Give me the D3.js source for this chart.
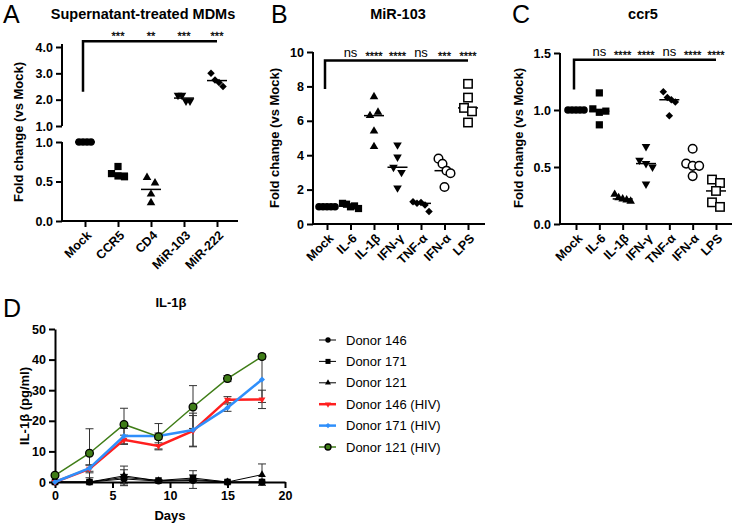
<!DOCTYPE html>
<html>
<head>
<meta charset="utf-8">
<script src="https://cdn.jsdelivr.net/npm/d3@7"></script>
<style>
  body { margin: 0; background: #fff; }
  svg { display: block; font-family: "Liberation Sans", Arial, sans-serif; }
  .tick text { font-weight: bold; font-size: 12.5px; fill: #000; }
  .domain, .tick line { stroke: #000; stroke-width: 2px; }
  .title { font-weight: bold; font-size: 14.5px; text-anchor: middle; }
  .axisText { font-weight: bold; font-size: 13px; text-anchor: middle; }
  .letter { font-size: 25px; }
  .sig { text-anchor: middle; fill: #000; }
</style>
</head>
<body>
<div class="chart"></div>
<script>
// ---- data ----
var catsA = ["Mock", "CCR5", "CD4", "MiR-103", "MiR-222"];
var valsA = [
  [1, 1, 1, 1],
  [0.69, 0.60, 0.57, 0.56],
  [0.55, 0.48, 0.34, 0.23],
  [2.17, 2.17, 1.95, 1.95],
  [3.0, 2.75, 2.65, 2.5]
];
var sigA = ["***", "**", "***", "***"];

var catsBC = ["Mock", "IL-6", "IL-1β", "IFN-γ", "TNF-α", "IFN-α", "LPS"];
var valsB = [
  [1, 1, 1, 1, 1],
  [1.2, 1.15, 1.0, 1.05, 0.9],
  [7.4, 6.3, 6.5, 5.4, 4.5],
  [4.6, 3.9, 3.3, 3.0, 2.1],
  [1.3, 1.2, 1.25, 1.1, 0.72],
  [3.8, 3.5, 3.1, 2.95, 2.15],
  [8.15, 7.35, 6.75, 6.55, 5.9]
];
var sigB = ["ns", "****", "****", "ns", "***", "****"];
var valsC = [
  [1, 1, 1, 1, 1],
  [1.15, 1.01, 0.98, 0.99, 0.87],
  [0.26, 0.23, 0.22, 0.21, 0.2],
  [0.68, 0.56, 0.53, 0.5, 0.35],
  [1.16, 1.11, 1.09, 1.07, 0.95],
  [0.66, 0.53, 0.51, 0.51, 0.42],
  [0.39, 0.36, 0.29, 0.19, 0.15]
];
var sigC = ["ns", "****", "****", "ns", "****", "****"];

var days = [0, 3, 6, 9, 12, 15, 18];
var donorNames = ["Donor 146", "Donor 171", "Donor 121", "Donor 146 (HIV)", "Donor 171 (HIV)", "Donor 121 (HIV)"];
var il1b = [
  [0, 0, 1.0, 0.3, 0.5, 0, 0],
  [0, 0, 1.5, 0.5, 1.3, 0, 0],
  [0, 0, 2.0, 0.4, 0.8, 0, 2.4],
  [0, 4.3, 13.8, 11.8, 16.7, 26.9, 27.0],
  [0, 4.5, 15.0, 15.0, 17.0, 24.3, 33.5],
  [2.2, 9.4, 18.8, 14.8, 24.5, 33.8, 41.0]
];
var il1bErr = [
  [0, 0, 1.5, 0.2, 0.5, 0, 0],
  [0, 0, 2.5, 0.2, 1.0, 0, 0],
  [0, 0, 3.2, 0.3, 2.9, 0, 3.5],
  [0, 1.3, 1.5, 1.0, 5.0, 1.0, 3.0],
  [0, 1.0, 2.5, 1.0, 5.5, 1.2, 7.5],
  [0.5, 8.0, 5.3, 4.3, 7.0, 1.0, 0.8]
];

// ---- styles ----
var shapesAB = ["circle", "square", "triangle", "tridown", "diamond", "ocircle", "osquare"];
var shapesA = ["circle", "square", "triangle", "tridown", "diamond"];
var donorColors = ["#000", "#000", "#000", "#ff1f1f", "#2f8ffb", "#3f7d17"];
var donorWidths = [1, 1, 1, 2.5, 2.5, 1.5];
var donorShapes = ["circle", "square", "triangle", "tridown", "diamond", "gcircle"];

var svg = d3.select(".chart").append("svg")
  .attr("width", 733).attr("height", 524);

function marker(g, shape, x, y, s) {
  s = s || 1;
  var p;
  if (shape === "circle") {
    p = g.append("circle").attr("r", 3.8 * s).attr("fill", "#000");
  } else if (shape === "ocircle") {
    p = g.append("circle").attr("r", 4.3).attr("fill", "#fff").attr("stroke", "#000").attr("stroke-width", 1.5);
  } else if (shape === "gcircle") {
    p = g.append("circle").attr("r", 4.3 * s).attr("fill", "#3f7d17").attr("stroke", "#000").attr("stroke-width", 1.3);
  } else if (shape === "square") {
    p = g.append("rect").attr("x", -3.6 * s).attr("y", -3.6 * s).attr("width", 7.2 * s).attr("height", 7.2 * s).attr("fill", "#000");
  } else if (shape === "osquare") {
    p = g.append("rect").attr("x", -4.2).attr("y", -4.2).attr("width", 8.4).attr("height", 8.4).attr("fill", "#fff").attr("stroke", "#000").attr("stroke-width", 1.5);
  } else if (shape === "diamond") {
    p = g.append("path").attr("d", d3.symbol(d3.symbolSquare, 28 * s * s)()).attr("fill", "#000");
  } else {
    p = g.append("path").attr("d", d3.symbol(d3.symbolTriangle, 32 * s * s)()).attr("fill", "#000");
  }
  var rot = shape === "diamond" ? 45 : (shape === "tridown" ? 180 : 0);
  p.attr("transform", "translate(" + x + "," + y + ") rotate(" + rot + ")");
  return p;
}

// spread points whose heights are close (GraphPad-like scatter)
function swarm(vals, yScale, cx) {
  var idx = vals.map(function(v, i) { return i; })
    .sort(function(a, b) { return yScale(vals[a]) - yScale(vals[b]); });
  var clusters = [], cur = [];
  idx.forEach(function(i) {
    if (cur.length && yScale(vals[i]) - yScale(vals[cur[cur.length - 1]]) >= 7) {
      clusters.push(cur); cur = [];
    }
    cur.push(i);
  });
  if (cur.length) clusters.push(cur);
  var out = [];
  clusters.forEach(function(cl) {
    var n = cl.length;
    var step = n === 2 ? 8 : (n === 3 ? 6.5 : 4);
    cl.slice().sort(function(a, b) { return a - b; }).forEach(function(i, k) {
      out[i] = [cx + (k - (n - 1) / 2) * step, yScale(vals[i])];
    });
  });
  return out;
}

// ---- generic dot-plot panel ----
function dotPanel(opt) {
  var g = svg.append("g");
  var x = d3.scalePoint().domain(opt.cats).range(opt.xRange);
  opt.scales.forEach(function(seg) {
    var ax = g.append("g")
      .attr("transform", "translate(" + opt.axisX + ",0)")
      .call(d3.axisLeft(seg.y).tickValues(seg.ticks).tickFormat(d3.format(opt.fmt)).tickSize(6).tickSizeOuter(0));
    ax.select(".domain").attr("d", "M0," + seg.lineRange[0] + "V" + seg.lineRange[1]);
  });
  // x axis
  var xa = g.append("g")
    .attr("transform", "translate(0," + opt.axisY + ")")
    .call(d3.axisBottom(x).tickSize(6).tickSizeOuter(0).tickFormat(""));
  xa.select(".domain").attr("d", "M" + opt.axisX + ",0H" + opt.xEnd);
  g.selectAll(".catLabel").data(opt.cats).enter().append("text")
    .attr("class", "catLabel")
    .attr("transform", function(d) { return "translate(" + (x(d) + 4) + "," + (opt.axisY + 12) + ") rotate(-45)"; })
    .attr("text-anchor", "end")
    .attr("dy", "0.35em")
    .style("font-weight", "bold").style("font-size", "12.5px")
    .text(function(d) { return d; });

  opt.vals.forEach(function(vs, i) {
    var yS = opt.pick(vs);
    var pts = swarm(vs, yS, x(opt.cats[i]));
    var md = opt.center(vs);
    g.append("line")
      .attr("x1", x(opt.cats[i]) - 10).attr("x2", x(opt.cats[i]) + 10)
      .attr("y1", yS(md)).attr("y2", yS(md))
      .attr("stroke", "#000").attr("stroke-width", 1.5);
    pts.forEach(function(p) { marker(g, opt.shapes[i], p[0], p[1]); });
  });

  // significance bracket
  var sy = opt.sigScale;
  var x0 = x(opt.cats[0]) - 2;
  g.append("path")
    .attr("d", "M" + x0 + "," + sy(opt.sigLow) + "V" + sy(opt.sigHigh) + "H" + x(opt.cats[opt.cats.length - 1]))
    .attr("fill", "none").attr("stroke", "#000").attr("stroke-width", 2.5);
  g.selectAll(".sig").data(opt.sig).enter().append("text")
    .attr("class", "sig")
    .attr("x", function(d, i) { return x(opt.cats[i + 1]); })
    .attr("y", function(d) { return sy(opt.sigHigh) - (d === "ns" ? 4 : 1); })
    .style("font-size", function(d) { return d === "ns" ? "13px" : "11px"; })
    .attr("stroke", function(d) { return d === "ns" ? null : "#000"; })
    .attr("stroke-width", 0.3)
    .text(function(d) { return d; });

  // titles
  g.append("text").attr("class", "title").attr("x", opt.titleX).attr("y", 19).text(opt.title);
  g.append("text").attr("class", "letter").attr("x", opt.letterX).attr("y", 23).text(opt.letter);
  g.append("text").attr("class", "axisText")
    .attr("transform", "translate(" + opt.ylabX + "," + opt.ylabY + ") rotate(-90)")
    .text("Fold change (vs Mock)");
}

// Panel A (broken y axis)
var yAlow = d3.scaleLinear().domain([0, 1]).range([221, 142]);
var yAup = d3.scaleLinear().domain([1, 4]).range([126, 47]);
dotPanel({
  cats: catsA, vals: valsA, shapes: shapesA, sig: sigA,
  xRange: [85, 217], axisX: 62, axisY: 221, xEnd: 238,
  scales: [
    { y: yAlow, ticks: [0, 0.5, 1], lineRange: [221, 142] },
    { y: yAup, ticks: [1, 2, 3, 4], lineRange: [126, 44] }
  ],
  fmt: ".1f",
  pick: function(vs) { return d3.max(vs) > 1.05 ? yAup : yAlow; },
  center: d3.mean,
  sigScale: yAup, sigLow: 2.3, sigHigh: 4.22,
  title: "Supernatant-treated MDMs", titleX: 143, letter: "A", letterX: 3,
  ylabX: 23, ylabY: 132
});

// Panel B
var yB = d3.scaleLinear().domain([0, 10]).range([224, 52]);
dotPanel({
  cats: catsBC, vals: valsB, shapes: shapesAB, sig: sigB,
  xRange: [327, 468], axisX: 313, axisY: 224, xEnd: 485,
  scales: [{ y: yB, ticks: [0, 2, 4, 6, 8, 10], lineRange: [224, 52] }],
  fmt: "d",
  pick: function() { return yB; },
  center: d3.median,
  sigScale: yB, sigLow: 7.85, sigHigh: 9.5,
  title: "MiR-103", titleX: 398, letter: "B", letterX: 271,
  ylabX: 279, ylabY: 138
});

// Panel C
var yC = d3.scaleLinear().domain([0, 1.5]).range([224, 53]);
dotPanel({
  cats: catsBC, vals: valsC, shapes: shapesAB, sig: sigC,
  xRange: [576, 716], axisX: 560, axisY: 224, xEnd: 732,
  scales: [{ y: yC, ticks: [0, 0.5, 1, 1.5], lineRange: [224, 53] }],
  fmt: ".1f",
  pick: function() { return yC; },
  center: d3.median,
  sigScale: yC, sigLow: 1.18, sigHigh: 1.44,
  title: "ccr5", titleX: 643, letter: "C", letterX: 512,
  ylabX: 523, ylabY: 138
});

// ---- Panel D: IL-1β time course ----
var gD = svg.append("g");
var xD = d3.scaleLinear().domain([0, 20]).range([55, 285]);
var yD = d3.scaleLinear().domain([0, 50]).range([482, 329]);

gD.append("g").attr("transform", "translate(0,482)")
  .call(d3.axisBottom(xD).tickValues([0, 5, 10, 15, 20]).tickSize(6).tickSizeOuter(0));
gD.append("g").attr("transform", "translate(55,0)")
  .call(d3.axisLeft(yD).tickValues([0, 10, 20, 30, 40, 50]).tickSize(6).tickSizeOuter(0));

gD.append("text").attr("class", "letter").attr("x", 3).attr("y", 317).text("D");
gD.append("text").attr("class", "title").attr("x", 171).attr("y", 307).style("font-size", "13px").text("IL-1β");
gD.append("text").attr("class", "axisText").attr("x", 170).attr("y", 520).text("Days");
gD.append("text").attr("class", "axisText")
  .attr("transform", "translate(29,406) rotate(-90)").text("IL-1β (pg/ml)");

gD.append("clipPath").attr("id", "clipD")
  .append("rect").attr("x", 40).attr("y", 329).attr("width", 260).attr("height", 170);

var line = d3.line().x(function(d, i) { return xD(days[i]); }).y(function(d) { return yD(d); });

il1b.forEach(function(vs, s) {
  var sg = gD.append("g").attr("clip-path", "url(#clipD)");
  // error bars
  vs.forEach(function(v, i) {
    var e = il1bErr[s][i];
    if (e <= 0) return;
    var cx = xD(days[i]);
    sg.append("path")
      .attr("d", "M" + cx + "," + yD(v - e) + "V" + yD(v + e) +
        "M" + (cx - 4) + "," + yD(v + e) + "H" + (cx + 4) +
        "M" + (cx - 4) + "," + yD(v - e) + "H" + (cx + 4))
      .attr("stroke", "#333").attr("stroke-width", 1).attr("fill", "none");
  });
});
il1b.forEach(function(vs, s) {
  gD.append("path").attr("d", line(vs))
    .attr("fill", "none").attr("stroke", donorColors[s]).attr("stroke-width", donorWidths[s]);
  vs.forEach(function(v, i) {
    var m = marker(gD, donorShapes[s], xD(days[i]), yD(v), s >= 3 && s < 5 ? 0.8 : 0.9);
    if (s >= 3 && s < 5) m.attr("fill", donorColors[s]);
  });
});

// legend
var leg = gD.append("g");
donorNames.forEach(function(name, s) {
  var ly = 340 + s * 21.4;
  leg.append("line").attr("x1", 319).attr("x2", 336).attr("y1", ly).attr("y2", ly)
    .attr("stroke", donorColors[s]).attr("stroke-width", donorWidths[s]);
  var m = marker(leg, donorShapes[s], 328, ly, 0.7);
  if (s >= 3 && s < 5) m.attr("fill", donorColors[s]);
  leg.append("text").attr("x", 346).attr("y", ly).attr("dy", "0.35em")
    .style("font-size", "13px").text(name);
});
</script>
</body>
</html>
